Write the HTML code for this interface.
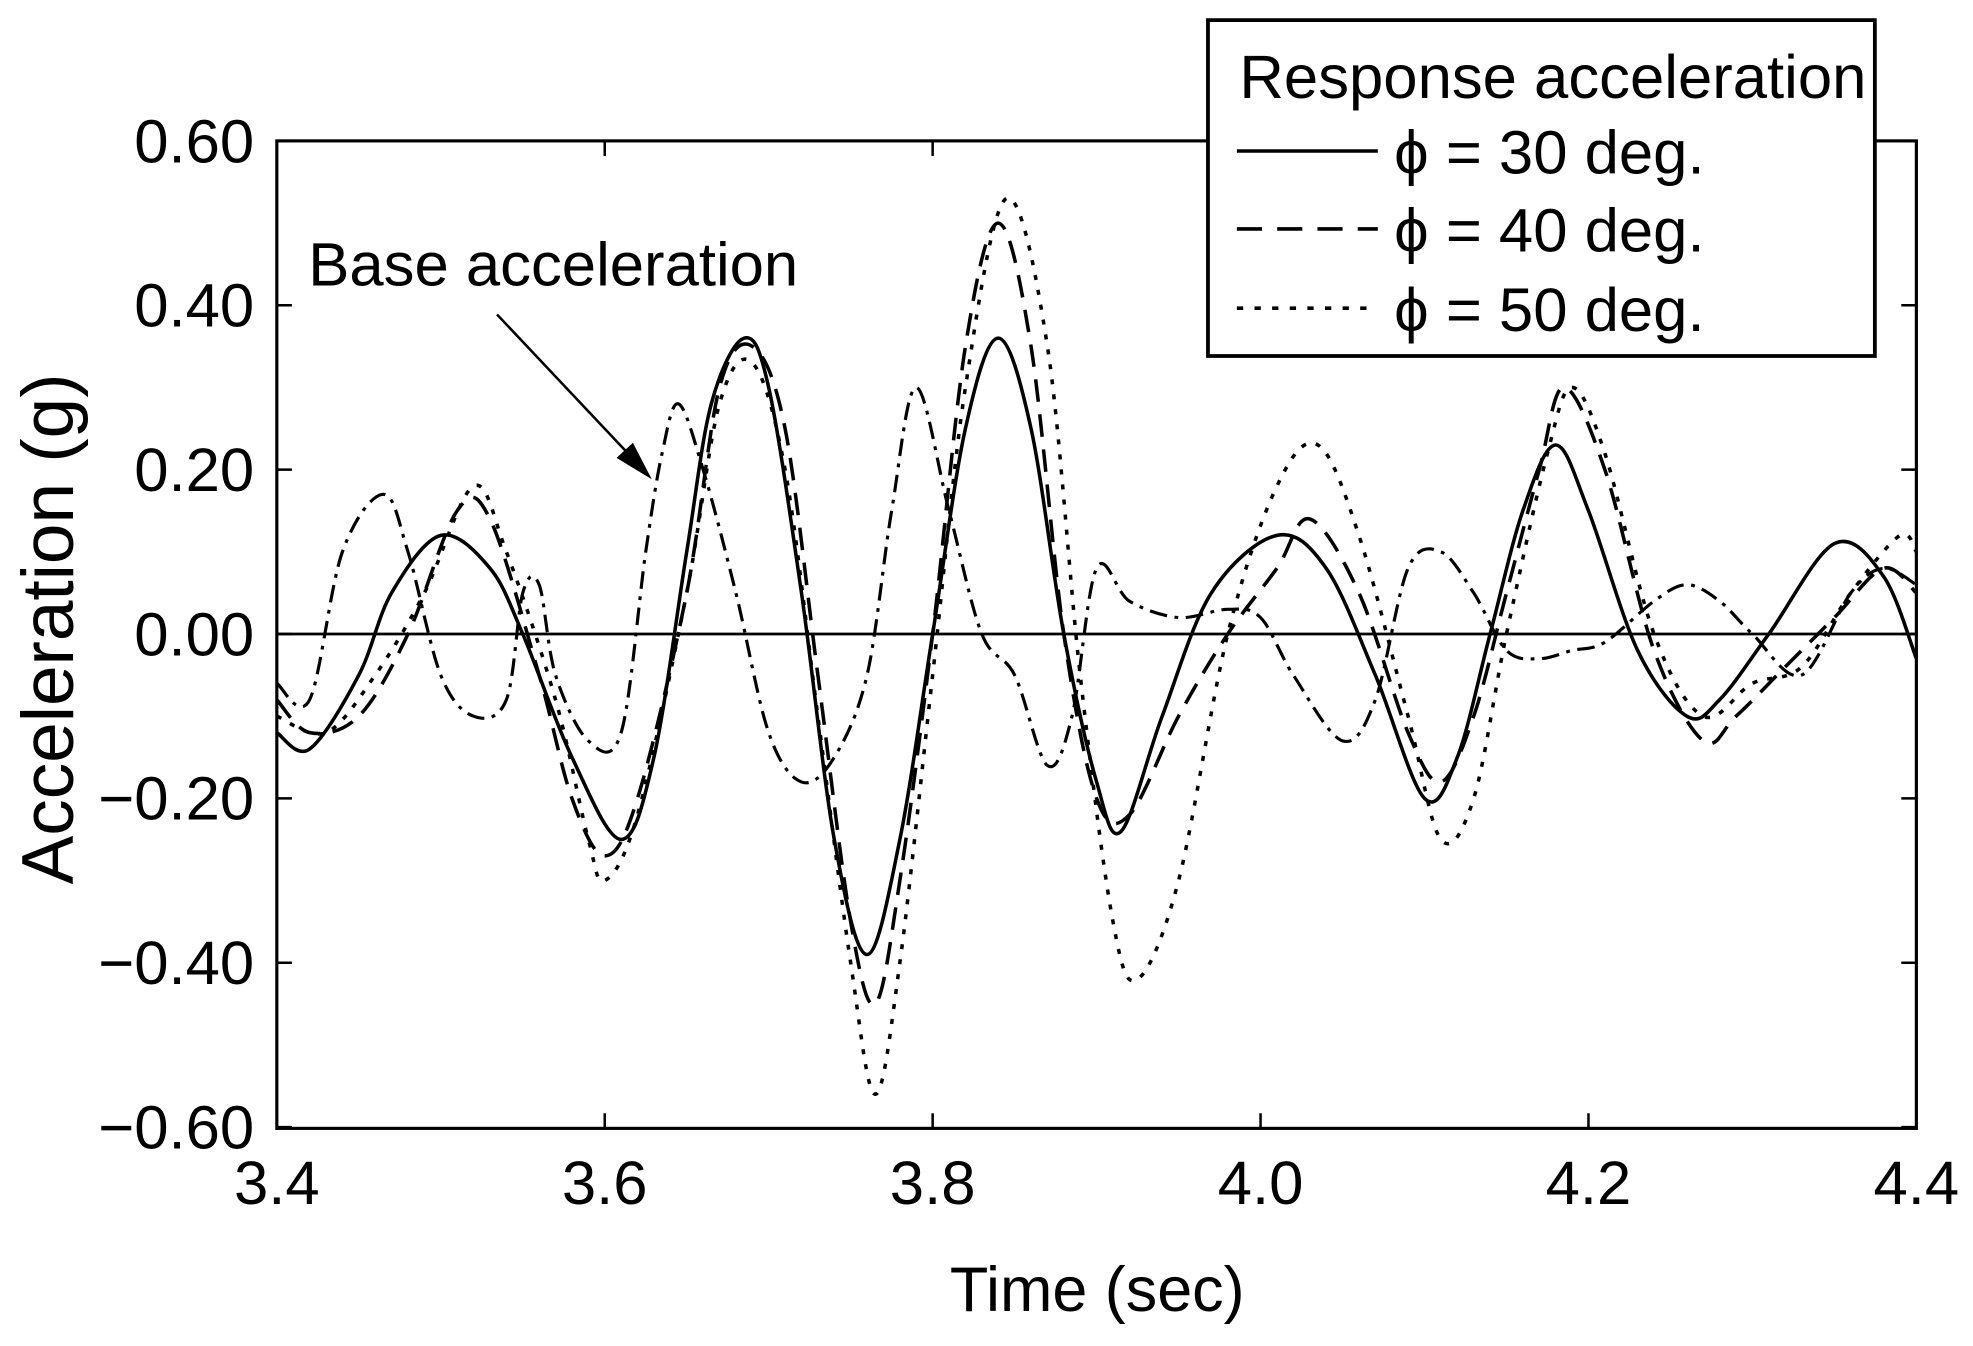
<!DOCTYPE html>
<html><head><meta charset="utf-8"><style>
html,body{margin:0;padding:0;background:#fff}
svg{display:block;font-family:"Liberation Sans",sans-serif}
</style></head><body>
<svg id="chart" width="1973" height="1346" viewBox="0 0 1568 1070" preserveAspectRatio="none" xmlns="http://www.w3.org/2000/svg">
<g id="axes"></g>
<g id="series"></g>
<rect x="220" y="112" width="1303" height="785" fill="none" stroke="#000" stroke-width="2.5"/>
<text x="872" y="1042" font-size="50" text-anchor="middle">Time (sec)</text>
<text transform="translate(58,500) rotate(-90)" font-size="58" text-anchor="middle">Acceleration (g)</text>
<text x="245" y="227" font-size="49">Base acceleration</text>
<line x1="395" y1="250" x2="510" y2="372" stroke="#000" stroke-width="2"/>
<polygon points="518,381 490,364 503,352" fill="#000"/>
<g>
<rect x="960" y="16" width="530" height="267" fill="#fff" stroke="#000" stroke-width="3"/>
<text x="985" y="78" font-size="49">Response acceleration</text>
<line x1="983" y1="120" x2="1095" y2="120" stroke="#000" stroke-width="2.8"/>
<text x="1108" y="138" font-size="49">ϕ = 30 deg.</text>
<line x1="983" y1="182" x2="1095" y2="182" stroke="#000" stroke-width="2.8" stroke-dasharray="20,12"/>
<text x="1108" y="200" font-size="49">ϕ = 40 deg.</text>
<line x1="983" y1="245" x2="1095" y2="245" stroke="#000" stroke-width="2.8" stroke-dasharray="5,9"/>
<text x="1108" y="263" font-size="49">ϕ = 50 deg.</text>
</g>
</svg>
<script>
const xTicks=[3.4,3.6,3.8,4.0,4.2,4.4];
const xTickLabels=["3.4","3.6","3.8","4.0","4.2","4.4"];
const yTicks=[0.6,0.4,0.2,0,-0.2,-0.4,-0.6];
const yTickLabels=["0.60","0.40","0.20","0.00","\u22120.20","\u22120.40","\u22120.60"];
const t30=[3.40,3.42,3.45,3.47,3.50,3.53,3.55,3.58,3.61,3.63,3.65,3.665,3.685,3.70,3.72,3.74,3.76,3.78,3.80,3.82,3.84,3.86,3.88,3.90,3.915,3.94,3.97,4.01,4.04,4.07,4.10,4.12,4.14,4.16,4.18,4.20,4.23,4.26,4.28,4.31,4.35,4.38,4.40];
const v30=[-0.12,-0.14,-0.05,0.05,0.12,0.08,0.0,-0.15,-0.25,-0.15,0.1,0.28,0.36,0.3,0.05,-0.25,-0.39,-0.25,0.0,0.25,0.36,0.25,0.0,-0.18,-0.24,-0.1,0.05,0.12,0.08,-0.05,-0.2,-0.15,0.0,0.15,0.23,0.15,-0.02,-0.1,-0.08,0.0,0.11,0.07,-0.03];
const t40=[3.40,3.42,3.45,3.48,3.51,3.53,3.56,3.58,3.60,3.62,3.65,3.67,3.69,3.71,3.73,3.75,3.765,3.78,3.80,3.82,3.84,3.86,3.88,3.90,3.92,3.95,3.98,4.01,4.03,4.06,4.09,4.11,4.13,4.15,4.17,4.185,4.21,4.24,4.27,4.29,4.32,4.35,4.38,4.40];
const v40=[-0.08,-0.12,-0.1,0.0,0.15,0.14,-0.05,-0.2,-0.27,-0.2,0.05,0.3,0.35,0.25,-0.05,-0.35,-0.45,-0.3,0.0,0.35,0.5,0.35,0.0,-0.2,-0.22,-0.1,0.0,0.08,0.14,0.05,-0.12,-0.18,-0.1,0.05,0.2,0.3,0.2,-0.02,-0.13,-0.1,-0.04,0.02,0.08,0.05];
const t50=[3.40,3.43,3.46,3.49,3.52,3.54,3.57,3.59,3.60,3.62,3.65,3.67,3.69,3.71,3.73,3.75,3.765,3.78,3.80,3.82,3.845,3.87,3.89,3.91,3.925,3.95,3.98,4.01,4.035,4.06,4.09,4.11,4.13,4.15,4.175,4.19,4.21,4.24,4.27,4.30,4.33,4.36,4.39,4.40];
const v50=[-0.1,-0.12,-0.05,0.05,0.18,0.1,-0.08,-0.25,-0.3,-0.22,0.05,0.28,0.33,0.2,-0.1,-0.4,-0.56,-0.4,-0.05,0.3,0.53,0.35,-0.05,-0.35,-0.42,-0.3,0.0,0.18,0.23,0.12,-0.1,-0.25,-0.2,0.0,0.22,0.3,0.22,0.0,-0.1,-0.06,-0.04,0.05,0.12,0.1];
const tBase=[3.40,3.42,3.44,3.465,3.48,3.50,3.52,3.54,3.55,3.56,3.57,3.59,3.61,3.625,3.635,3.645,3.66,3.68,3.70,3.72,3.74,3.76,3.775,3.79,3.81,3.83,3.85,3.87,3.885,3.90,3.92,3.95,3.98,4.00,4.02,4.05,4.07,4.09,4.11,4.13,4.15,4.17,4.19,4.21,4.24,4.26,4.28,4.30,4.33,4.36,4.38,4.40];
const vBase=[-0.06,-0.08,0.1,0.17,0.1,-0.05,-0.1,-0.08,0.05,0.06,-0.05,-0.13,-0.12,0.1,0.22,0.28,0.2,0.05,-0.12,-0.18,-0.15,-0.05,0.15,0.3,0.15,0.0,-0.05,-0.16,-0.1,0.08,0.04,0.02,0.03,0.02,-0.05,-0.13,-0.08,0.08,0.1,0.05,-0.02,-0.03,-0.02,-0.01,0.04,0.06,0.04,0.0,-0.05,0.05,0.08,0.06];
const X=t=>220+(t-3.4)/1.0*1303;
const Y=v=>504-v/0.6*392;
const NS="http://www.w3.org/2000/svg";
const axes=document.getElementById('axes');
const series=document.getElementById('series');
function mk(tag,attrs,parent){const e=document.createElementNS(NS,tag);for(const k in attrs)e.setAttribute(k,attrs[k]);parent.appendChild(e);return e;}
xTicks.forEach((t,i)=>{
  const x=X(t);
  const a=mk('line',{x1:x,y1:897,x2:x,y2:885,stroke:'#000','stroke-width':2},axes);
  
  
  const b=mk('line',{x1:x,y1:112,x2:x,y2:124,stroke:'#000','stroke-width':2},axes);
  
  
  const l=mk('text',{x:x,y:957,'font-size':49,'text-anchor':'middle'},axes);
  l.textContent=xTickLabels[i];
  
  
});
yTicks.forEach((v,i)=>{
  const y=Y(v);
  const a=mk('line',{x1:220,y1:y,x2:232,y2:y,stroke:'#000','stroke-width':2},axes);
  
  
  const b=mk('line',{x1:1523,y1:y,x2:1511,y2:y,stroke:'#000','stroke-width':2},axes);
  
  
  const l=mk('text',{x:202,y:y+17,'font-size':49,'text-anchor':'end'},axes);
  l.textContent=yTickLabels[i];
  
  
});
const zl=mk('line',{x1:220,y1:Y(0),x2:1523,y2:Y(0),stroke:'#000','stroke-width':2.2},axes);


function pathD(ts,vs){
  const p=ts.map((t,i)=>[X(t),Y(vs[i])]);
  let d='M'+p[0][0]+','+p[0][1];
  for(let i=0;i<p.length-1;i++){
    const p0=p[Math.max(0,i-1)],p1=p[i],p2=p[i+1],p3=p[Math.min(p.length-1,i+2)];
    const c1=[p1[0]+(p2[0]-p0[0])/6,p1[1]+(p2[1]-p0[1])/6];
    const c2=[p2[0]-(p3[0]-p1[0])/6,p2[1]-(p3[1]-p1[1])/6];
    d+=' C'+c1+' '+c2+' '+p2;
  }
  return d;
}
const s1=mk('path',{d:pathD(t30,v30),fill:'none',stroke:'#000','stroke-width':2.8},series);


const s2=mk('path',{d:pathD(t40,v40),fill:'none',stroke:'#000','stroke-width':2.8,'stroke-dasharray':'18,10'},series);


const s3=mk('path',{d:pathD(t50,v50),fill:'none',stroke:'#000','stroke-width':2.8,'stroke-dasharray':'4,8'},series);


const s4=mk('path',{d:pathD(tBase,vBase),fill:'none',stroke:'#000','stroke-width':2.5,'stroke-dasharray':'14,6,3,6'},series);


</script>
</body></html>
